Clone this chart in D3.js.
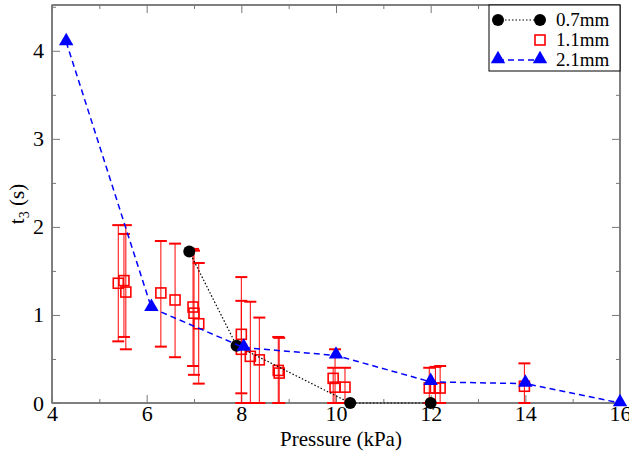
<!DOCTYPE html>
<html><head><meta charset="utf-8">
<script src="https://cdn.jsdelivr.net/npm/d3@7"></script>
<style>body{margin:0;background:#fff}</style>
</head><body><svg id="c" width="629" height="451"></svg>
<script>
// 0.7mm series
var p07 = [6.9, 7.9, 10.3, 12];
var t07 = [1.72, 0.65, 0, 0];
// 1.1mm series with error bars
var p11 = [5.40, 5.52, 5.56, 6.30, 6.60, 6.98, 7.00, 7.10, 8.00, 8.00, 8.19, 8.38, 8.78, 8.80, 9.94, 9.98, 10.19, 11.97, 12.10, 12.20, 13.98];
var t11 = [1.36, 1.39, 1.26, 1.25, 1.17, 1.09, 1.02, 0.90, 0.78, 0.61, 0.53, 0.49, 0.37, 0.34, 0.28, 0.18, 0.18, 0.17, 0.17, 0.17, 0.19];
var hi11 = [2.02, 1.92, 2.02, 1.84, 1.81, 1.75, 1.73, 1.59, 1.43, 1.16, 1.15, 0.97, 0.75, 0.74, 0.40, 0.61, 0.40, 0.40, 0.41, 0.42, 0.45];
var lo11 = [0.70, 0.75, 0.61, 0.64, 0.52, 0.42, 0.32, 0.22, 0.11, 0.0, 0.0, 0.0, 0.0, 0.0, 0.0, 0.0, 0.0, 0.0, 0.0, 0.0, 0.0];
// 2.1mm series
var p21 = [4.3, 6.1, 8.05, 10, 12, 14, 16];
var t21 = [4.1, 1.08, 0.63, 0.54, 0.24, 0.22, 0];
var xTicks = [4, 6, 8, 10, 12, 14, 16];
var yTicks = [0, 1, 2, 3, 4];

var FONT = "serif";
var svg = d3.select("#c");
var L = 52, R = 620, T = 5, B = 403;
var x = d3.scaleLinear().domain([4, 16]).range([L, R]);
var y = d3.scaleLinear().domain([0, 4.52]).range([B, T]);
var fmt = d3.format("d");

svg.append("rect").attr("x", L).attr("y", T).attr("width", R - L).attr("height", B - T)
  .attr("fill", "none").attr("stroke", "#000");

svg.append("g").attr("transform", "translate(0," + B + ")")
  .call(d3.axisBottom(x).tickValues(xTicks).tickSize(-8).tickPadding(2).tickFormat(fmt));
svg.append("g").attr("transform", "translate(0," + B + ")")
  .call(d3.axisBottom(x).tickValues(d3.range(5, 16, 2)).tickSize(-4).tickFormat(""));
svg.append("g").attr("transform", "translate(" + L + ",0)")
  .call(d3.axisLeft(y).tickValues(yTicks).tickSize(-8).tickPadding(8).tickFormat(fmt));
svg.append("g").attr("transform", "translate(" + L + ",0)")
  .call(d3.axisLeft(y).tickValues([0.5, 1.5, 2.5, 3.5, 4.5]).tickSize(-4).tickFormat(""));
svg.append("g").attr("transform", "translate(" + R + ",0)")
  .call(d3.axisRight(y).tickValues(yTicks).tickSize(-8).tickFormat(""));
svg.append("g").attr("transform", "translate(" + R + ",0)")
  .call(d3.axisRight(y).tickValues([0.5, 1.5, 2.5, 3.5, 4.5]).tickSize(-4).tickFormat(""));
svg.append("g").attr("transform", "translate(0," + T + ")")
  .call(d3.axisTop(x).tickValues(xTicks).tickSize(-8).tickFormat(""));
svg.append("g").attr("transform", "translate(0," + T + ")")
  .call(d3.axisTop(x).tickValues(d3.range(5, 16, 2)).tickSize(-4).tickFormat(""));
svg.selectAll(".domain").remove();
svg.selectAll("g").attr("font-family", FONT);
svg.selectAll(".tick line").attr("stroke", "#777");
svg.selectAll(".tick text").attr("fill", "#000")
  .style("font-family", FONT).style("font-size", "22px");

svg.append("text").style("font-family", FONT).attr("x", 341).attr("y", 446).attr("text-anchor", "middle")
  .style("font-size", "21px").text("Pressure (kPa)");
var yl = svg.append("text").style("font-family", FONT)
  .attr("transform", "translate(24," + ((T + B) / 2) + ") rotate(-90)")
  .attr("text-anchor", "middle").style("font-size", "21px");
yl.append("tspan").text("t");
yl.append("tspan").style("font-size", "14px").attr("dy", 5).text("3");
yl.append("tspan").attr("dy", -5).text(" (s)");

var line = d3.line().x(function (d) { return x(d[0]); }).y(function (d) { return y(d[1]); });

// 1.1mm error bars and squares
var g11 = svg.append("g").attr("stroke", "#f00").attr("fill", "none");
p11.forEach(function (p, i) {
  g11.append("line").attr("x1", x(p)).attr("x2", x(p)).attr("y1", y(hi11[i])).attr("y2", y(lo11[i])).attr("stroke-width", 1);
  [hi11[i], lo11[i]].forEach(function (v) {
    g11.append("line").attr("x1", x(p) - 6).attr("x2", x(p) + 6).attr("y1", y(v)).attr("y2", y(v)).attr("stroke-width", 2);
  });
});
p11.forEach(function (p, i) {
  g11.append("rect").attr("x", x(p) - 5).attr("y", y(t11[i]) - 5).attr("width", 10).attr("height", 10)
    .attr("stroke-width", 1.6).attr("fill", "none");
});

// 0.7mm
var d07 = p07.map(function (p, i) { return [p, t07[i]]; });
svg.append("path").datum(d07).attr("d", line).attr("fill", "none").attr("stroke", "#000")
  .attr("stroke-dasharray", "1.5,2").attr("stroke-width", 1.2);
svg.selectAll(".c07").data(d07).enter().append("circle")
  .attr("cx", function (d) { return x(d[0]); }).attr("cy", function (d) { return y(d[1]); })
  .attr("r", 6).attr("fill", "#000");

// 2.1mm
var d21 = p21.map(function (p, i) { return [p, t21[i]]; });
svg.append("path").datum(d21).attr("d", line).attr("fill", "none").attr("stroke", "#00f")
  .attr("stroke-dasharray", "6,4").attr("stroke-width", 1.5);
var tri = d3.symbol().type(d3.symbolTriangle).size(90);
svg.selectAll(".t21").data(d21).enter().append("path").attr("d", tri)
  .attr("transform", function (d) { return "translate(" + x(d[0]) + "," + (y(d[1]) - 1) + ")"; })
  .attr("fill", "#00f");

// legend
var lg = svg.append("g");
lg.append("rect").attr("x", 489).attr("y", 5).attr("width", 131).attr("height", 66)
  .attr("fill", "#fff").attr("stroke", "#000");
var rows = [["0.7mm", "k"], ["1.1mm", "r"], ["2.1mm", "b"]];
rows.forEach(function (r, i) {
  var yy = 20 + i * 20;
  if (r[1] === "k") {
    lg.append("line").attr("x1", 498).attr("x2", 540).attr("y1", yy).attr("y2", yy).attr("stroke", "#000").attr("stroke-dasharray", "1.5,2");
    [498, 540].forEach(function (cx) { lg.append("circle").attr("cx", cx).attr("cy", yy).attr("r", 6).attr("fill", "#000"); });
  } else if (r[1] === "r") {
    lg.append("rect").attr("x", 535).attr("y", yy - 5).attr("width", 10).attr("height", 10).attr("fill", "none").attr("stroke", "#f00").attr("stroke-width", 1.6);
  } else {
    lg.append("line").attr("x1", 498).attr("x2", 540).attr("y1", yy).attr("y2", yy).attr("stroke", "#00f").attr("stroke-dasharray", "6,4").attr("stroke-width", 1.5);
    [498, 540].forEach(function (cx) { lg.append("path").attr("d", tri).attr("transform", "translate(" + cx + "," + (yy - 1) + ")").attr("fill", "#00f"); });
  }
  lg.append("text").style("font-family", FONT).attr("x", 556).attr("y", yy + 6).style("font-size", "19px").text(r[0]);
});
</script></body></html>
